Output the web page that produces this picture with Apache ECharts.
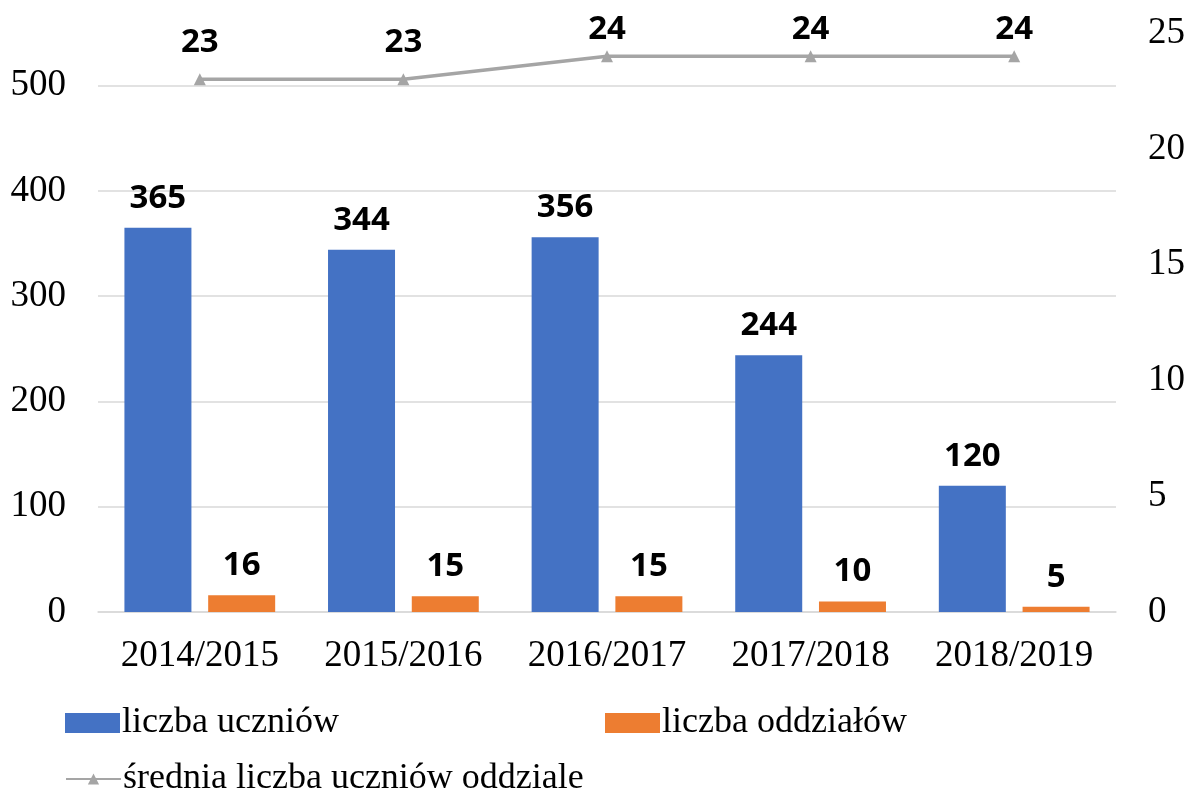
<!DOCTYPE html>
<html><head><meta charset="utf-8">
<script src="https://cdn.jsdelivr.net/npm/echarts@6/dist/echarts.min.js"></script>
<style>html,body{margin:0;padding:0;background:#fff}#c{width:1189px;height:794px}</style>
</head><body><div id="c"></div>
<script>
const categories = ['2014/2015','2015/2016','2016/2017','2017/2018','2018/2019'];
const uczniowie = [365, 344, 356, 244, 120];
const oddzialy = [16, 15, 15, 10, 5];
const srednia = [23, 23, 24, 24, 24];
const seriesNames = ['liczba uczniów', 'liczba oddziałów', 'średnia liczba uczniów oddziale'];

const serif = 'Liberation Serif';
const labelStyle = {show: true, position: 'top', fontFamily: 'Open Sans', fontWeight: 'bold', fontSize: 33, color: '#000', distance: 13};
const legendText = {fontFamily: serif, fontSize: 36, color: '#000', padding: [0,0,0,-3]};
const chart = echarts.init(document.getElementById('c'));
const maxAvg = Math.max(...srednia);
chart.setOption({
  animation: false,
  grid: {left: 98, right: 73, top: 33, bottom: 182},
  legend: [
    {data: [{name: seriesNames[0], icon: 'rect'}], left: 60, top: 700, itemWidth: 55, itemHeight: 20, textStyle: legendText},
    {data: [{name: seriesNames[1], icon: 'rect'}], left: 600, top: 700, itemWidth: 55, itemHeight: 20, textStyle: legendText},
    {data: [seriesNames[2]], left: 60, top: 756, itemWidth: 55, itemHeight: 14, textStyle: legendText}
  ],
  xAxis: {
    type: 'category', data: categories,
    axisLine: {lineStyle: {color: '#D9D9D9', width: 1.5}},
    axisTick: {show: false},
    axisLabel: {fontFamily: serif, fontSize: 37, color: '#000', margin: 26, interval: 0, hideOverlap: false}
  },
  yAxis: [
    {type: 'value', min: 0, max: 550, interval: 100,
     axisLabel: {fontFamily: serif, fontSize: 37, color: '#000', margin: 32, showMaxLabel: false},
     axisLine: {show: false}, axisTick: {show: false},
     splitLine: {show: true, showMaxLine: false, lineStyle: {color: '#D9D9D9', width: 1.5}}},
    {type: 'value', min: 0, max: 25, interval: 5,
     axisLabel: {fontFamily: serif, fontSize: 37, color: '#000', margin: 32},
     axisLine: {show: false}, axisTick: {show: false}, splitLine: {show: false}}
  ],
  series: [
    {name: seriesNames[0], type: 'bar', data: uczniowie, yAxisIndex: 0,
     barWidth: 67, barGap: '25%', itemStyle: {color: '#4472C4'}, label: labelStyle},
    {name: seriesNames[1], type: 'bar', data: oddzialy, yAxisIndex: 0,
     barWidth: 67, barGap: '25%', itemStyle: {color: '#ED7D31'}, label: labelStyle},
    {name: seriesNames[2], type: 'line', yAxisIndex: 1,
     data: srednia.map(v => ({value: v, label: {distance: v === maxAvg ? 4 : 14}})),
     symbol: 'triangle', symbolSize: 12,
     lineStyle: {color: '#A5A5A5', width: 3.5}, itemStyle: {color: '#A5A5A5'},
     label: labelStyle}
  ]
});
</script></body></html>
